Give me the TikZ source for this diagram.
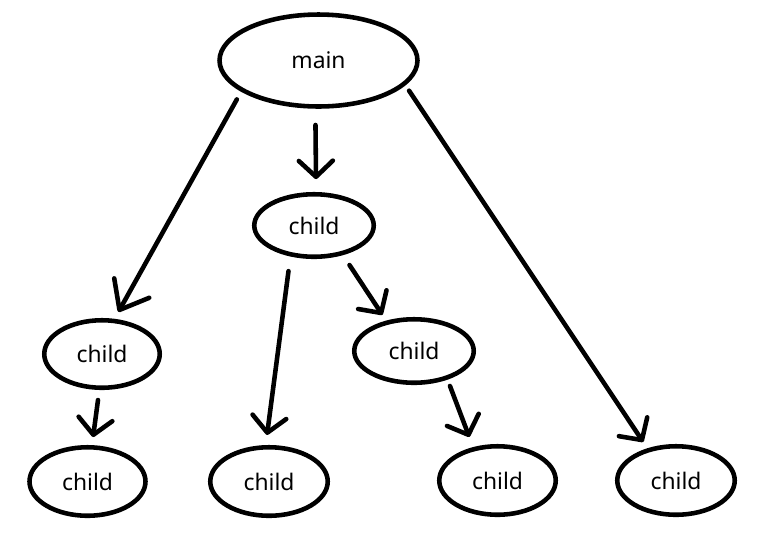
\documentclass[tikz,border=0pt]{standalone}
\usepackage{fontspec}
\setmainfont{Noto Sans}
\usetikzlibrary{shapes.geometric,arrows.meta}
\tikzset{
  bub/.style={ellipse, draw=black, line width=2.6pt, inner sep=0pt, outer sep=0pt,
    font=\fontsize{13}{15}\selectfont, text=black},
  conn/.style={line width=2.6pt, line cap=round,
    -{Straight Barb[length=0.32cm,width=0.68cm,round]}},
  bigtip/.style={-{Straight Barb[length=0.5cm,width=0.8cm,round]}}
}
\begin{document}
\begin{tikzpicture}[x=0.02cm,y=-0.02cm]
\useasboundingbox (0,0) rectangle (761,539);
\node[bub, minimum width=3.96cm, minimum height=1.84cm] (main) at (318.5,60.5) {main};
\node[bub, minimum width=2.39cm, minimum height=1.25cm] (c0) at (314,225.5) {child};
\node[bub, minimum width=2.31cm, minimum height=1.35cm] (c1) at (102,354) {child};
\node[bub, minimum width=2.39cm, minimum height=1.27cm] (c2) at (414,351) {child};
\node[bub, minimum width=2.32cm, minimum height=1.37cm] (b1) at (87.5,481.5) {child};
\node[bub, minimum width=2.35cm, minimum height=1.37cm] (b2) at (269,481.5) {child};
\node[bub, minimum width=2.33cm, minimum height=1.37cm] (b3) at (497.5,480.5) {child};
\node[bub, minimum width=2.35cm, minimum height=1.37cm] (b4) at (676,480.5) {child};

\draw[conn, bigtip, shorten <=0.22cm, shorten >=0.206cm] (main.201.8) -- (c1.71.9);
\draw[conn, shorten <=0.37cm, shorten >=0.304cm] (main.266.9) -- (c0.86.3);
\draw[conn, shorten <=0.174cm, shorten >=0.198cm] (main.345.6) -- (b4.132.8);
\draw[conn, shorten <=0.34cm, shorten >=0.25cm] (c0.231.4) -- (b2.96.7);
\draw[conn, shorten <=0.284cm, shorten >=0.184cm] (c0.315.8) -- (c2.133.7);
\draw[conn, shorten <=0.248cm, shorten >=0.208cm] (c1.266.1) -- (b1.83.2);
\draw[conn, shorten <=0.18cm, shorten >=0.262cm] (c2.321.1) -- (b3.127);
\end{tikzpicture}
\end{document}
